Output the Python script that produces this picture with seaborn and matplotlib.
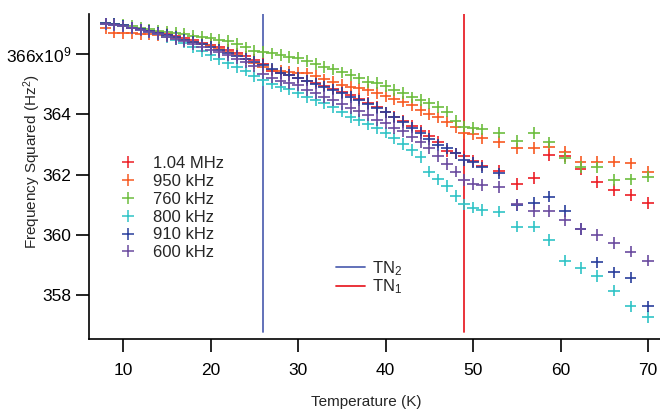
import matplotlib
matplotlib.use("Agg")
import matplotlib.pyplot as plt
import seaborn as sns
import pandas as pd
from matplotlib.lines import Line2D

# ---------------- data (frequency squared in units of 1e9 Hz^2) ----------------
temperature = [8, 9, 10, 11, 12, 13, 14, 15, 16, 17, 18, 19, 20, 21, 22, 23, 24, 25,
               26, 27, 28, 29, 30, 31, 32, 33, 34, 35, 36, 37, 38, 39, 40, 41, 42, 43,
               44, 45, 46, 47, 48, 49, 50, 51, 53, 55, 57, 58.7, 60.5, 62.3, 64.2,
               66.1, 68, 70]

f_104MHz = [367.00, 366.97, 366.92, 366.86, 366.82, 366.77, 366.72, 366.67, 366.60,
            366.53, 366.46, 366.38, 366.30, 366.22, 366.13, 366.02, 365.92, 365.80,
            365.68, 365.45, 365.38, 365.30, 365.22, 365.12, 365.03, 364.93, 364.84,
            364.74, 364.63, 364.52, 364.38, 364.25, 364.06, 363.92, 363.78, 363.62,
            363.45, 363.28, 363.08, 362.78, 362.70, 362.60, 362.45, 362.30, 362.13,
            361.68, 361.88, 362.65, 362.62, 362.18, 361.76, 361.49, 361.32, 361.05]

f_950kHz = [366.85, 366.71, 366.69, 366.69, 366.66, 366.66, 366.62, 366.58, 366.52,
            366.47, 366.40, 366.33, 366.26, 366.18, 366.08, 365.98, 365.85, 365.70,
            365.56, 365.47, 365.43, 365.40, 365.38, 365.36, 365.27, 365.16, 365.08,
            364.97, 364.92, 364.86, 364.81, 364.70, 364.61, 364.50, 364.42, 364.31,
            364.14, 364.01, 363.90, 363.76, 363.57, 363.37, 363.35, 363.20, 363.09,
            362.87, 362.89, 362.93, 362.76, 362.43, 362.43, 362.43, 362.37, 362.10]

f_760kHz = [367.02, 367.00, 366.96, 366.93, 366.88, 366.82, 366.77, 366.74, 366.71,
            366.66, 366.61, 366.57, 366.52, 366.46, 366.44, 366.33, 366.22, 366.11,
            366.06, 366.02, 365.97, 365.91, 365.86, 365.77, 365.67, 365.58, 365.49,
            365.39, 365.30, 365.19, 365.08, 365.03, 364.94, 364.81, 364.70, 364.56,
            364.47, 364.36, 364.25, 364.09, 363.77, 363.59, 363.54, 363.50, 363.39,
            363.12, 363.37, 363.07, 362.54, 362.26, 362.24, 361.82, 361.84, 361.93]

f_800kHz = [367.00, 366.97, 366.93, 366.87, 366.81, 366.74, 366.66, 366.57, 366.48,
            366.38, 366.24, 366.10, 365.96, 365.82, 365.70, 365.58, 365.45, 365.27,
            365.14, 365.02, 364.92, 364.83, 364.72, 364.58, 364.47, 364.36, 364.25,
            364.09, 363.92, 363.81, 363.68, 363.54, 363.39, 363.20, 363.01, 362.82,
            362.59, 362.10, 361.84, 361.62, 361.29, 361.01, 360.90, 360.83, 360.77,
            360.27, 360.27, 359.83, 359.14, 358.89, 358.64, 358.15, 357.62, 357.27]

f_910kHz = [367.02, 367.00, 366.95, 366.88, 366.82, 366.76, 366.70, 366.63, 366.56,
            366.48, 366.40, 366.32, 366.23, 366.14, 366.05, 365.95, 365.85, 365.75,
            365.64, 365.50, 365.38, 365.30, 365.22, 365.12, 365.02, 364.92, 364.82,
            364.70, 364.58, 364.46, 364.34, 364.20, 364.06, 363.90, 363.74, 363.56,
            363.38, 363.18, 362.98, 362.87, 362.70, 362.48, 362.40, 362.24, 362.04,
            360.99, 361.05, 361.27, 360.79, 360.19, 359.08, 358.75, 358.58, 357.62]

f_600kHz = [367.00, 366.97, 366.92, 366.86, 366.80, 366.73, 366.66, 366.58, 366.50,
            366.42, 366.34, 366.25, 366.15, 366.06, 365.96, 365.85, 365.74, 365.60,
            365.35, 365.22, 365.12, 365.03, 364.97, 364.80, 364.70, 364.58, 364.47,
            364.34, 364.20, 364.10, 363.98, 363.81, 363.70, 363.54, 363.43, 363.26,
            363.08, 362.88, 362.62, 362.35, 362.10, 361.82, 361.68, 361.66, 361.58,
            361.01, 360.79, 360.79, 360.49, 360.19, 360.00, 359.72, 359.44, 359.14]

series_labels = ["1.04 MHz", "950 kHz", "760 kHz", "800 kHz", "910 kHz", "600 kHz"]
series_values = [f_104MHz, f_950kHz, f_760kHz, f_800kHz, f_910kHz, f_600kHz]
series_colors = ["#ec1f26", "#f75a22", "#6dbd3e", "#30c3c6", "#2a3e9c", "#6b4b9f"]

transition_labels = ["TN$_2$", "TN$_1$"]
transition_temps = [26.0, 49.0]
transition_colors = ["#5566b3", "#e8232b"]

y_ticks = [358, 360, 362, 364, 366]
y_ticklabels = ["358", "360", "362", "364", "366x10$^{9}$"]
x_ticks = [10, 20, 30, 40, 50, 60, 70]

# ---------------- build long table ----------------
rows = []
for lab, vals in zip(series_labels, series_values):
    for t, v in zip(temperature, vals):
        rows.append({"Temperature": t, "F2": v, "series": lab})
df = pd.DataFrame(rows)

sns.set_theme(style="ticks")
plt.rcParams["font.family"] = ["Liberation Sans", "DejaVu Sans"]
plt.rcParams["mathtext.fontset"] = "custom"
plt.rcParams["mathtext.rm"] = "Liberation Sans"
plt.rcParams["mathtext.it"] = "Liberation Sans:italic"

W, H = 660, 412
fig = plt.figure(figsize=(6.6, 4.12), dpi=100)
ax_l, ax_b, ax_t = 89, 339, 14
ax = fig.add_axes([ax_l / W, (H - ax_b) / H, 1 - ax_l / W, (ax_b - ax_t) / H])
aw, ah = W - ax_l, ax_b - ax_t

xmin, xmax = 6.11, 71.37
ymin, ymax = 356.54, 367.33
ax.set_xlim(xmin, xmax)
ax.set_ylim(ymin, ymax)

vline_bottom = (356.77 - ymin) / (ymax - ymin)
line_handles = []
for lab, t, c in zip(transition_labels, transition_temps, transition_colors):
    ax.axvline(t, ymin=vline_bottom, ymax=1.0, color=c, lw=1.3, zorder=1)
    line_handles.append(Line2D([0], [0], color=c, lw=1.3, label=lab))

sns.scatterplot(data=df, x="Temperature", y="F2", hue="series",
                hue_order=series_labels, palette=series_colors,
                marker="+", s=70, linewidth=1.2, legend=False, ax=ax, zorder=3)

# legends
marker_handles = [Line2D([0], [0], marker="+", linestyle="none", color=c,
                         markersize=8, markeredgewidth=1.1, label=l)
                  for l, c in zip(series_labels, series_colors)]
leg1 = ax.legend(handles=marker_handles, loc="upper left",
                 bbox_to_anchor=((118 - ax_l) / aw, 1 - (156 - ax_t) / ah),
                 frameon=False, fontsize=12, handlelength=1.2, handletextpad=0.9,
                 labelspacing=0.17, borderaxespad=0, borderpad=0)
ax.add_artist(leg1)
ax.legend(handles=line_handles, loc="upper left",
          bbox_to_anchor=((336 - ax_l) / aw, 1 - (259 - ax_t) / ah),
          frameon=False, fontsize=12, handlelength=1.75, handletextpad=0.42,
          labelspacing=0.0, borderaxespad=0, borderpad=0)

ax.set_xticks(x_ticks)
ax.set_xticklabels([str(v) for v in x_ticks])
ax.set_yticks(y_ticks)
ax.set_yticklabels(y_ticklabels)
ax.tick_params(axis="both", direction="out", length=9.2, width=1.2,
               labelsize=12.5, colors="black")
ax.tick_params(axis="x", pad=8)
ax.tick_params(axis="y", pad=3.5)

for s in ["top", "right"]:
    ax.spines[s].set_visible(False)
for s in ["left", "bottom"]:
    ax.spines[s].set_linewidth(1.2)
    ax.spines[s].set_color("black")

ax.set_xlabel("Temperature (K)", fontsize=11)
ax.set_ylabel("Frequency Squared (Hz$^{2}$)", fontsize=11)
ax.xaxis.set_label_coords((366 - ax_l) / aw, (ax_b - 395) / ah)
ax.yaxis.set_label_coords((43 - ax_l) / aw, (ax_b - 162) / ah)

fig.savefig("out.png", dpi=100)
